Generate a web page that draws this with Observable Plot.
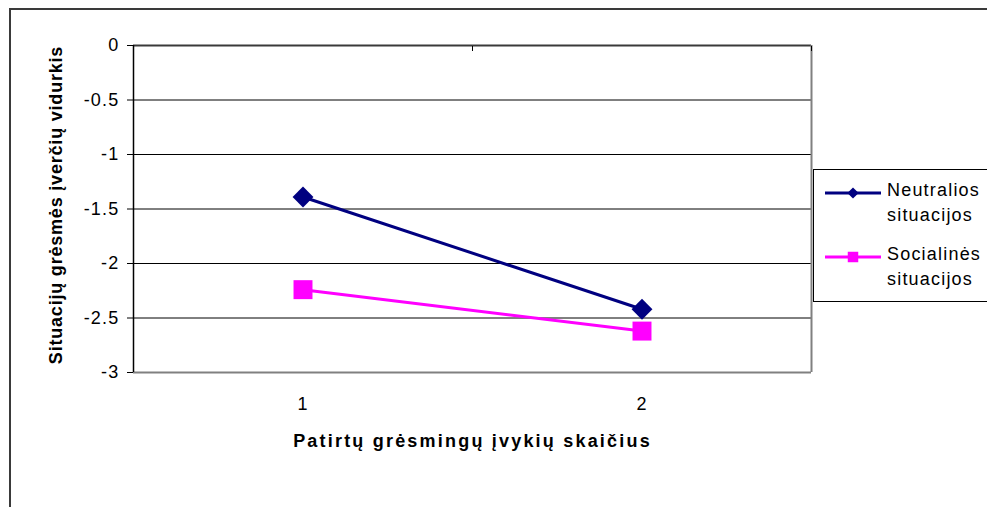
<!DOCTYPE html>
<html>
<head>
<meta charset="utf-8">
<script src="https://cdn.jsdelivr.net/npm/d3@7"></script>
<script src="https://cdn.jsdelivr.net/npm/@observablehq/plot@0.6"></script>
<style>
  html, body { margin: 0; padding: 0; background: #fff; }
  body { width: 987px; height: 507px; position: relative; overflow: hidden; font-family: Arial, "Liberation Sans", sans-serif; }
  #outer { position: absolute; left: 9px; top: 8px; width: 1000px; height: 520px; border-left: 2px solid #3a3a3a; border-top: 2px solid #3a3a3a; box-sizing: border-box; }
  #chart { position: absolute; left: 0; top: 0; }
  #legend { position: absolute; left: 813px; top: 169px; width: 200px; height: 133px; border: 1px solid #000; box-sizing: border-box; background: #fff; }
  .item { position: absolute; left: 0; display: flex; align-items: flex-start; }
  .item svg { display: block; margin-left: 11px; margin-top: 9px; }
  .item .lbl { margin-left: 6px; font-size: 18px; letter-spacing: 1.2px; line-height: 25px; color: #000; }
</style>
</head>
<body>
<div id="outer"></div>
<div id="chart"></div>
<div id="legend"></div>
<script>
const categories = [1, 2];
const seriesNames = ["Neutralios situacijos", "Socialinės situacijos"];
const neutralValues = [-1.39, -2.42];
const socialValues = [-2.24, -2.62];
const yTicks = [0, -0.5, -1, -1.5, -2, -2.5, -3];
const xTitle = "Patirtų grėsmingų įvykių skaičius";
const yTitle = "Situacijų grėsmės įverčių vidurkis";
const colors = ["#000080", "#FF00FF"];
const symbols = ["diamond2", "square"];

const rows = [];
categories.forEach((c, i) => {
  rows.push({x: c, y: neutralValues[i], s: seriesNames[0]});
  rows.push({x: c, y: socialValues[i], s: seriesNames[1]});
});
const boundaries = [categories[0] - 0.5, ...categories.map(c => c + 0.5)];

const font = 'Arial, "Liberation Sans", sans-serif';
const chart = Plot.plot({
  width: 987,
  height: 507,
  marginLeft: 133,
  marginRight: 176,
  marginTop: 45,
  marginBottom: 135,
  style: {fontFamily: font, fontSize: "18px", color: "#000", background: "transparent"},
  x: {type: "linear", domain: [boundaries[0], boundaries[boundaries.length - 1]]},
  y: {domain: [-3, 0]},
  color: {domain: seriesNames, range: colors},
  marks: [
    Plot.ruleY(yTicks, {stroke: "#000", strokeWidth: 1}),
    Plot.ruleY([0], {stroke: "#3a3a3a", strokeWidth: 2}),
    Plot.ruleY([-3], {stroke: "#808080", strokeWidth: 2}),
    Plot.ruleX([boundaries[boundaries.length - 1]], {stroke: "#808080", strokeWidth: 2}),
    Plot.ruleX([boundaries[0]], {stroke: "#000", strokeWidth: 1.5}),
    Plot.axisY({ticks: yTicks, tickFormat: d => String(d), tickSize: 6, tickPadding: 8, label: null, fontSize: 18}),
    Plot.axisX({anchor: "top", ticks: boundaries, tickFormat: () => "", tickSize: -5, label: null, stroke: "#000"}),
    Plot.axisX({anchor: "bottom", ticks: categories, tickFormat: d => String(d), tickSize: 0, tickPadding: 25, label: null, fontSize: 18}),
    Plot.text([xTitle], {frameAnchor: "bottom", dy: 69, lineAnchor: "middle", textAnchor: "middle", fontWeight: "bold", fontSize: 18, fill: "#000"}),
    Plot.text([yTitle], {frameAnchor: "left", rotate: -90, dx: -77, dy: -4, lineAnchor: "middle", textAnchor: "middle", fontWeight: "bold", fontSize: 18, fill: "#000"}),
    Plot.line(rows, {x: "x", y: "y", z: "s", stroke: "s", strokeWidth: 3}),
    Plot.dot(rows.filter(d => d.s === seriesNames[0]), {x: "x", y: "y", fill: colors[0], symbol: symbols[0], r: 9.4}),
    Plot.dot(rows.filter(d => d.s === seriesNames[1]), {x: "x", y: "y", fill: colors[1], symbol: symbols[1], r: 10.7})
  ]
});
document.getElementById("chart").appendChild(chart);

// letter spacing to mimic the wide source rendering
d3.select(chart).selectAll("text").each(function() {
  const t = this.textContent;
  let ls = 1.2;
  if (t === xTitle) ls = 2.2;
  else if (t === yTitle) ls = 0.8;
  d3.select(this).style("letter-spacing", ls + "px");
});

// legend
const legend = document.getElementById("legend");
const tops = [8, 72];
seriesNames.forEach((name, i) => {
  const item = document.createElement("div");
  item.className = "item";
  item.style.top = tops[i] + "px";
  const w = 56, h = 12;
  const svg = d3.create("svg").attr("width", w).attr("height", h);
  svg.append("line").attr("x1", 0).attr("x2", w).attr("y1", h / 2).attr("y2", h / 2)
    .attr("stroke", colors[i]).attr("stroke-width", 3);
  svg.append("path").attr("transform", `translate(${w / 2},${h / 2})`)
    .attr("d", d3.symbol(i === 0 ? d3.symbolDiamond2 : d3.symbolSquare, i === 0 ? 80 : 110)())
    .attr("fill", colors[i]);
  item.appendChild(svg.node());
  const lbl = document.createElement("div");
  lbl.className = "lbl";
  const parts = name.split(" ");
  lbl.innerHTML = parts[0] + "<br>" + parts[1];
  item.appendChild(lbl);
  legend.appendChild(item);
});
</script>
</body>
</html>
